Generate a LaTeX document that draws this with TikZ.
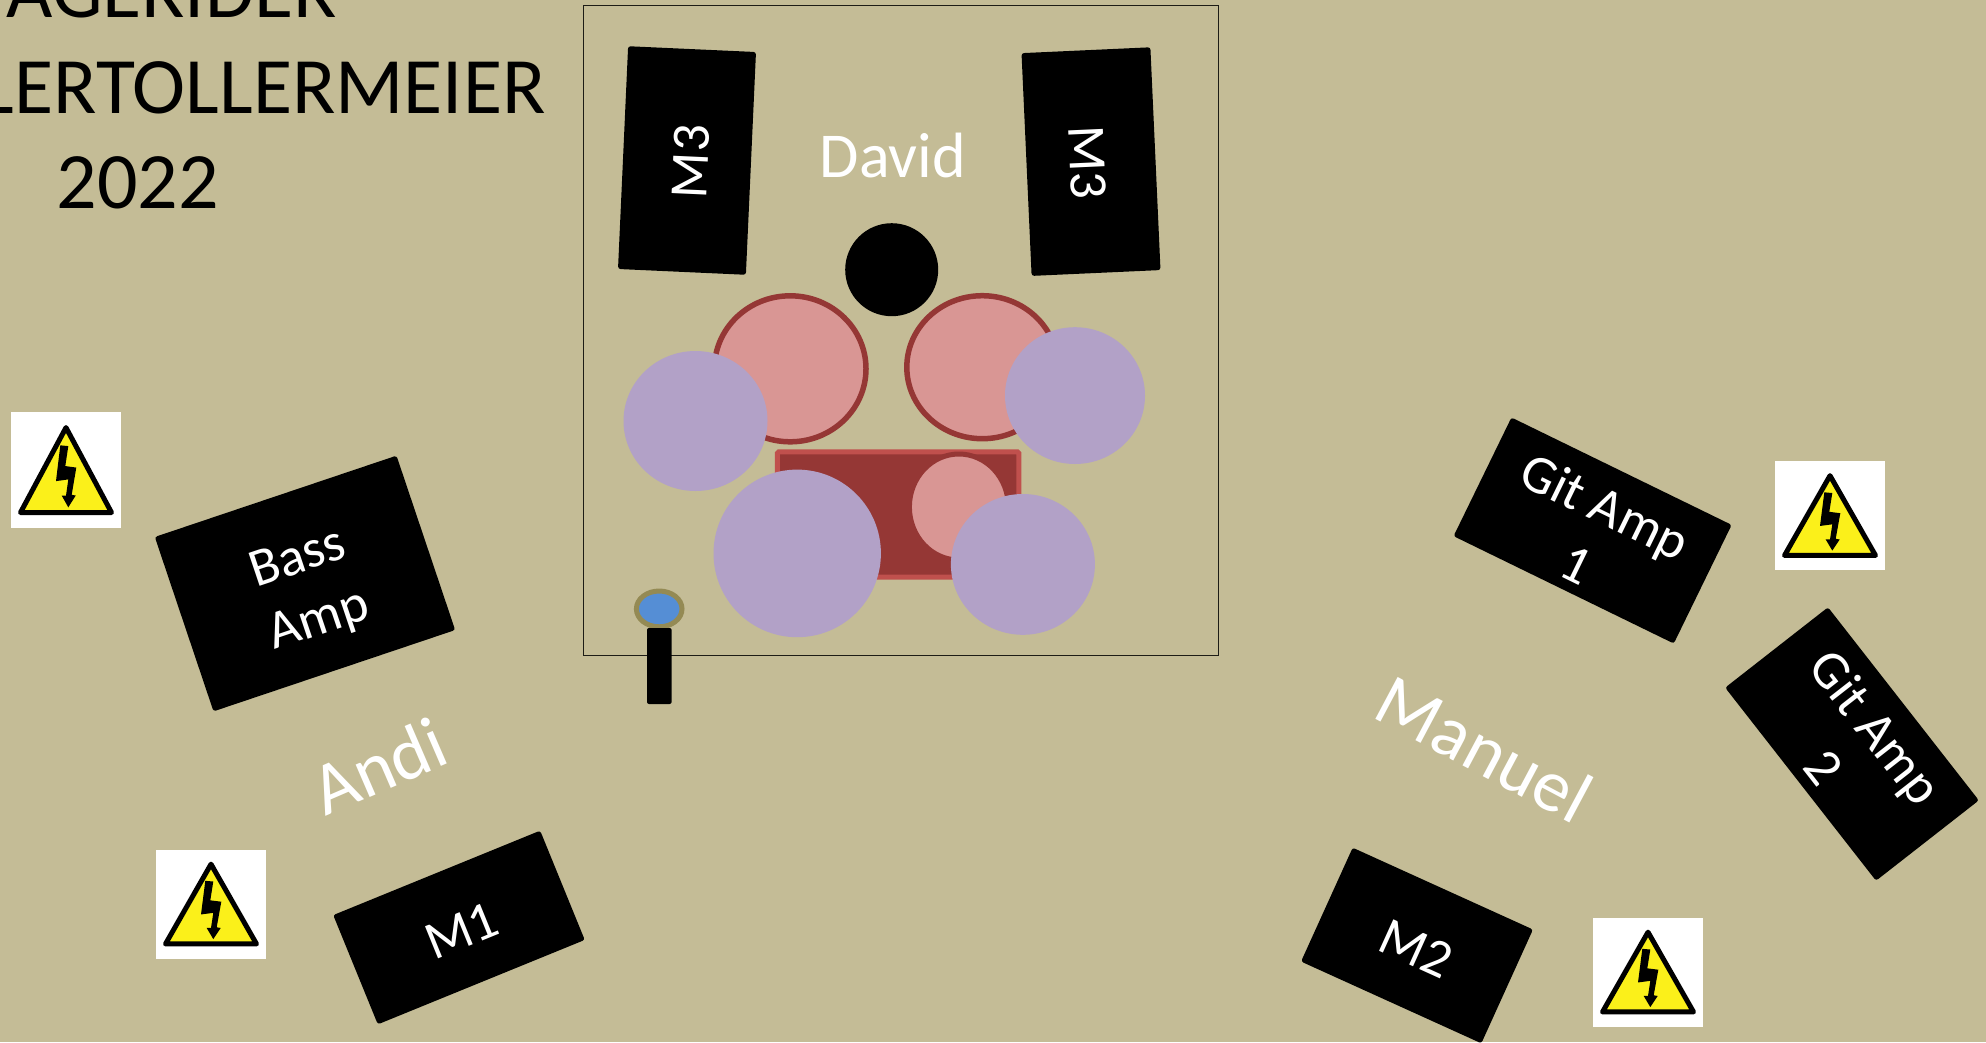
\documentclass[tikz,border=0pt]{standalone}
\usepackage{fontspec}
\setmainfont{Carlito}
\definecolor{stage}{HTML}{C4BC96}
\definecolor{pinkdrum}{HTML}{D99694}
\definecolor{darkred}{HTML}{953735}
\definecolor{redline}{HTML}{C0504D}
\definecolor{cymbal}{HTML}{B2A1C7}
\definecolor{micblue}{HTML}{558ED5}
\definecolor{micline}{HTML}{948A54}
\definecolor{warnyellow}{HTML}{FBF01A}
\tikzset{
  boxblack/.style={fill=black,rounded corners=2.5pt,inner sep=0pt,outer sep=0pt},
  labelw/.style={text=white,align=center,inner sep=0pt,font=\fontsize{54}{65}\selectfont},
  bigw/.style={text=white,inner sep=0pt,font=\fontsize{74}{88}\selectfont},
  titletext/.style={text=black,inner sep=0pt,font=\fontsize{80}{96}\selectfont},
  warn/.pic={
    \fill[white] (0,0) rectangle (110,108);
    \draw[black,fill=warnyellow,line width=5pt,line join=round] (55,14.5) -- (100.5,93.5) -- (9.5,93.5) -- cycle;
    \fill[black] (49.3,31) -- (57.3,31.7) -- (54.3,50.3) -- (65.3,51.7) -- (60.7,77) -- (64.7,77.7) -- (57.3,88.7) -- (50.7,77.7) -- (55,77.7) -- (57.3,62.7) -- (45,64.3) -- cycle;
  }
}
\begin{document}
\begin{tikzpicture}[x=1pt,y=-1pt]
\clip (0,0) rectangle (1986,1042);
\fill[stage] (0,0) rectangle (1986,1042);
% title
\node[titletext,anchor=base east] (t1) at (337,17.5) {AGERIDER};
\node[titletext,anchor=base east] (t2) at (546,113.3) {LERTOLLERMEIER};
\node[titletext,anchor=base] (t3) at (137.6,208.5) {2022};
% drum riser
\draw[line width=1pt,color=black!85!stage] (583.5,5) rectangle (1218.5,655);
\node[boxblack,minimum width=223pt,minimum height=128pt,rotate=87.4] (m3l) at (687,160.5) {};
\node[labelw,rotate=87.4] (m3lt) at (691,161.5) {M3};
\node[boxblack,minimum width=223pt,minimum height=129pt,rotate=-87.4] (m3r) at (1091,161.6) {};
\node[labelw,rotate=-87.4] (m3rt) at (1087.5,162.2) {M3};
\node[bigw,font=\fontsize{64}{76}\selectfont] (david) at (893,155.5) {David};
\fill[black] (891.7,269.7) ellipse [x radius=46.5pt,y radius=46.5pt];
\filldraw[fill=pinkdrum,draw=darkred,line width=5.5pt] (790.2,368.8) ellipse [x radius=75.8pt,y radius=73pt];
\filldraw[fill=pinkdrum,draw=darkred,line width=5.5pt] (982.3,367.2) ellipse [x radius=75.5pt,y radius=71.5pt];
\filldraw[fill=darkred,draw=redline,line width=5pt,rounded corners=1.5pt] (777.3,451.8) rectangle (1018.9,577.2);
\filldraw[fill=pinkdrum,draw=darkred,line width=5pt] (958.9,507) ellipse [x radius=49.5pt,y radius=53pt];
\fill[cymbal] (695.5,421) ellipse [x radius=72pt,y radius=70pt];
\fill[cymbal] (1075,395.6) ellipse [x radius=70pt,y radius=68.4pt];
\fill[cymbal] (797.2,553.4) ellipse [x radius=83.7pt,y radius=83.8pt];
\fill[cymbal] (1022.9,564.4) ellipse [x radius=72pt,y radius=70.4pt];
% mic
\filldraw[fill=micblue,draw=micline,line width=5pt] (659.2,608.9) ellipse [x radius=22.8pt,y radius=17.9pt];
\fill[black,rounded corners=2pt] (647,628) rectangle (671.6,704);
% bass
\node[boxblack,minimum width=255pt,minimum height=184pt,rotate=18.6] (bass) at (305,583.5) {};
\node[labelw,rotate=18.6] (basst) at (309,590.5) {Bass\\Amp};
\node[bigw,rotate=23.4] (andi) at (379,766) {Andi};
\node[boxblack,minimum width=223.5pt,minimum height=118pt,rotate=22.2] (m1) at (459,927.5) {};
\node[labelw,rotate=22.2] (m1t) at (461.5,931) {M1};
% right
\node[boxblack,minimum width=245pt,minimum height=132pt,rotate=-26] (g1) at (1592.6,530.5) {};
\node[labelw,rotate=-26] (g1t) at (1591.5,535) {Git Amp\\1};
\node[boxblack,minimum width=245pt,minimum height=130.5pt,rotate=-52] (g2) at (1852,744) {};
\node[labelw,rotate=-52] (g2t) at (1850.5,747) {Git Amp\\2};
\node[bigw,rotate=-28] (manuel) at (1484.5,748.5) {Manuel};
\node[boxblack,minimum width=198pt,minimum height=125pt,rotate=-24.4] (m2) at (1417,945.5) {};
\node[labelw,rotate=-24.4] (m2t) at (1416,948.5) {M2};
% warning signs
\pic[yscale=1.075] at (11,412) {warn};
\pic[yscale=1.01] at (156,849.5) {warn};
\pic[yscale=1.01] at (1775,461) {warn};
\pic[yscale=1.01] at (1593,917.5) {warn};
\end{tikzpicture}
\end{document}
